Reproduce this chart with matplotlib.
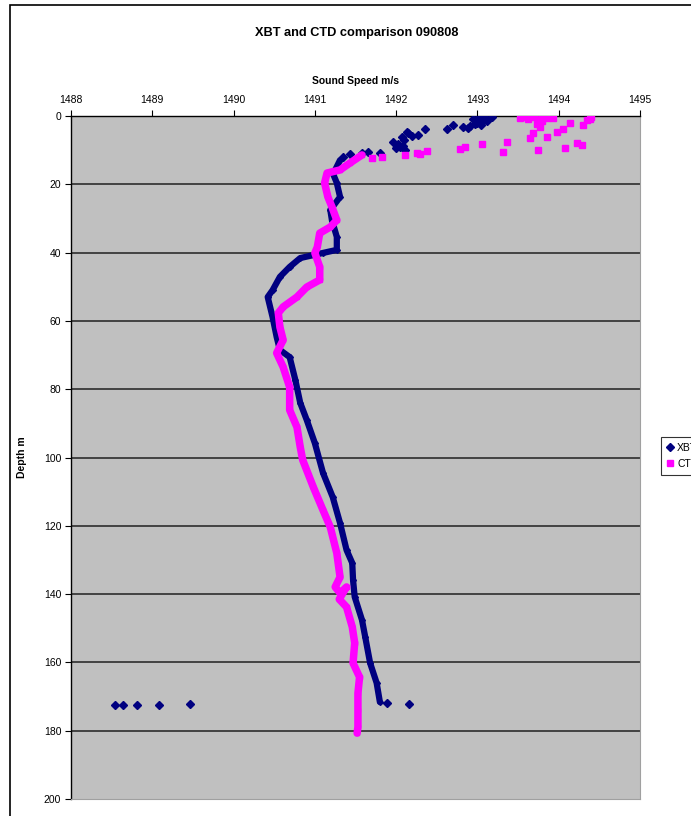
import matplotlib
matplotlib.use("Agg")
import matplotlib.pyplot as plt
from matplotlib.lines import Line2D
from matplotlib.patches import Rectangle

plt.rcParams['font.family'] = ['Liberation Sans', 'DejaVu Sans']

# ---- data ----
# XBT near-surface scattered points
xbt_surf_speed = [1493.18, 1493.09, 1493.01, 1493.06, 1492.97, 1492.91, 1492.82, 1492.70,
                  1492.62, 1492.35, 1492.27, 1492.13, 1492.07, 1491.96, 1492.05, 1492.11,
                  1491.80, 1491.65, 1491.58, 1491.43, 1491.35, 1493.03, 1493.12, 1492.95,
                  1493.00, 1493.08, 1492.98, 1493.04, 1492.88, 1492.10, 1492.15, 1492.02,
                  1492.20, 1492.00, 1492.08]
xbt_surf_depth = [0.3, 0.6, 0.9, 1.8, 2.3, 2.9, 3.2, 2.6,
                  3.8, 3.8, 5.6, 4.7, 6.1, 7.6, 9.1, 10.0,
                  10.8, 10.5, 10.8, 11.1, 12.0, 0.2, 1.4, 1.0,
                  2.0, 0.4, 1.3, 2.6, 3.4, 7.0, 5.0, 8.2,
                  6.0, 9.5, 8.8]
# XBT continuous profile
xbt_speed = [1491.31, 1491.25, 1491.22, 1491.27, 1491.31, 1491.19, 1491.21, 1491.27,
             1491.27, 1491.10, 1490.82, 1490.69, 1490.57, 1490.48, 1490.42, 1490.48,
             1490.53, 1490.57, 1490.69, 1490.76, 1490.82, 1490.90, 1491.00, 1491.10,
             1491.22, 1491.31, 1491.39, 1491.46, 1491.47, 1491.49, 1491.58, 1491.62,
             1491.68, 1491.76, 1491.80]
xbt_depth = [12.9, 15.8, 16.7, 19.6, 23.7, 27.5, 30.5, 35.4,
             39.2, 40.1, 41.6, 44.2, 47.1, 51.0, 53.0, 58.9,
             64.7, 68.5, 70.6, 77.3, 84.0, 89.0, 95.8, 104.5,
             111.6, 119.2, 127.1, 130.9, 135.9, 140.8, 147.6, 152.6,
             160.2, 166.0, 171.6]
# XBT spikes at the bottom
xbt_spike_speed = [1491.89, 1492.16, 1488.54, 1488.64, 1488.81, 1489.08, 1489.46]
xbt_spike_depth = [171.9, 172.2, 172.5, 172.5, 172.5, 172.5, 172.2]

# CTD near-surface scattered points
ctd_surf_speed = [1493.55, 1493.62, 1493.70, 1493.78, 1493.85, 1493.92, 1494.40, 1494.35,
                  1494.38, 1494.14, 1494.30, 1493.77, 1494.05, 1493.98, 1493.68, 1493.85,
                  1493.65, 1493.36, 1494.22, 1494.29, 1493.06, 1492.85, 1492.78, 1494.08,
                  1493.31, 1493.74, 1492.38, 1492.26, 1492.29, 1492.11, 1491.83, 1491.70,
                  1493.52, 1493.93, 1493.80, 1493.73]
ctd_surf_depth = [0.3, 0.8, 0.2, 1.0, 0.5, 0.3, 0.3, 1.1,
                  0.9, 2.0, 2.6, 3.2, 3.8, 4.7, 5.0, 6.1,
                  6.4, 7.6, 7.9, 8.5, 8.2, 9.1, 9.7, 9.4,
                  10.5, 10.0, 10.2, 10.8, 11.1, 11.4, 12.0, 12.3,
                  0.6, 0.6, 1.5, 2.2]
# CTD continuous profile
ctd_speed = [1491.58, 1491.43, 1491.31, 1491.15, 1491.12, 1491.16, 1491.21, 1491.27,
             1491.19, 1491.06, 1491.03, 1491.00, 1491.06, 1491.06, 1490.90, 1490.78,
             1490.61, 1490.55, 1490.57, 1490.61, 1490.53, 1490.61, 1490.69, 1490.69,
             1490.78, 1490.82, 1490.85, 1490.98, 1491.10, 1491.19, 1491.27, 1491.31,
             1491.25, 1491.31, 1491.39, 1491.30, 1491.39, 1491.46, 1491.49, 1491.47,
             1491.55, 1491.53, 1491.53, 1491.53, 1491.52]
ctd_depth = [11.4, 13.8, 15.8, 16.7, 19.6, 23.7, 26.6, 30.5,
             32.5, 34.3, 38.4, 40.1, 44.2, 48.0, 50.1, 53.0,
             55.9, 57.7, 61.8, 65.6, 69.4, 73.5, 79.4, 86.1,
             91.1, 96.9, 100.7, 108.6, 115.4, 120.4, 128.0, 135.0,
             137.9, 139.7, 137.9, 141.5, 143.8, 149.6, 154.3, 160.2,
             164.3, 169.0, 173.9, 178.9, 180.7]

xticks = [1488, 1489, 1490, 1491, 1492, 1493, 1494, 1495]
yticks = [0, 20, 40, 60, 80, 100, 120, 140, 160, 180, 200]

navy = '#000080'
magenta = '#FF00FF'

W, H = 691, 816
fig = plt.figure(figsize=(W / 100, H / 100), dpi=100)
fig.patch.set_facecolor('white')

# chart frame
fig.patches.append(Rectangle((10 / W, -0.1), 1.2, 1 - 5 / H + 0.1, transform=fig.transFigure,
                             fill=False, edgecolor='black', linewidth=1.2))

ax = fig.add_axes([71 / W, 1 - 799 / H, (640 - 71) / W, (799 - 116) / H])
ax.set_facecolor('#C0C0C0')

for d in yticks[1:-1]:
    ax.axhline(d, color='#202020', linewidth=1.1, zorder=1)

ax.plot(xbt_speed, xbt_depth, color=navy, linewidth=4.5, marker='D', markersize=3,
        solid_joinstyle='round', solid_capstyle='round', zorder=3)
ax.plot(xbt_surf_speed, xbt_surf_depth, linestyle='none', color=navy, marker='D', markersize=4.5, zorder=3)
ax.plot(xbt_spike_speed, xbt_spike_depth, linestyle='none', color=navy, marker='D', markersize=4.5, zorder=3)

ax.plot(ctd_speed, ctd_depth, color=magenta, linewidth=5.4, marker='s', markersize=3,
        solid_joinstyle='round', solid_capstyle='round', zorder=4)
ax.plot(ctd_surf_speed, ctd_surf_depth, linestyle='none', color=magenta, marker='s', markersize=4.5, zorder=4)

ax.set_xlim(1488, 1495)
ax.set_ylim(200, 0)
ax.set_xticks(xticks)
ax.set_yticks(yticks)
ax.xaxis.tick_top()
ax.xaxis.set_label_position('top')
ax.tick_params(axis='both', direction='out', length=4, width=0.8, labelsize=7.5, colors='black')
ax.tick_params(axis='x', pad=4)
ax.tick_params(axis='y', pad=3)
for s in ['top', 'left']:
    ax.spines[s].set_color('black')
    ax.spines[s].set_linewidth(1.0)
for s in ['right', 'bottom']:
    ax.spines[s].set_color('#A0A0A0')
    ax.spines[s].set_linewidth(0.8)

ax.set_xlabel('Sound Speed m/s', fontsize=7.5, fontweight='bold', labelpad=8)
ax.set_ylabel('Depth m', fontsize=7.5, fontweight='bold', labelpad=12)

fig.text(357 / W, 1 - 33 / H, 'XBT and CTD comparison 090808', ha='center', va='center',
         fontsize=9.2, fontweight='bold')

handles = [Line2D([], [], linestyle='none', marker='D', color=navy, markersize=4),
           Line2D([], [], linestyle='none', marker='s', color=magenta, markersize=5)]
leg = fig.legend(handles, ['XBT', 'CTD'], loc='upper left',
                 bbox_to_anchor=(661 / W, 1 - 437 / H), fontsize=7.5, frameon=True,
                 fancybox=False, edgecolor='black', handlelength=0.6, handletextpad=0.4,
                 borderpad=0.55, labelspacing=0.6, borderaxespad=0)
leg.get_frame().set_linewidth(0.8)

fig.savefig('out.png', dpi=100)
